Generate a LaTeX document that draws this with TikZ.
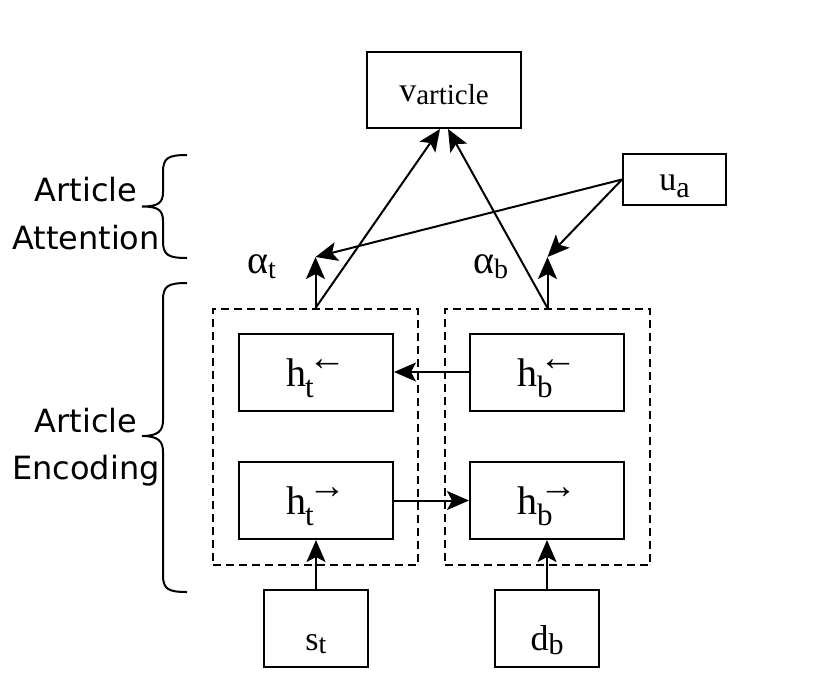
\documentclass[tikz,border=0pt]{standalone}
\usepackage{fontspec}
\setmainfont{Liberation Serif}
\newfontfamily\labelfont{DejaVu Sans}
\usetikzlibrary{arrows.meta}
\newcommand{\msub}[5]{{\fontsize{#1}{#1}\selectfont #2}\raisebox{-#5}{\fontsize{#3}{#3}\selectfont #4}}
\newcommand{\hvec}[3]{{\fontsize{40}{40}\selectfont h}\makebox[0pt][l]{\kern#3\raisebox{-11pt}{\fontsize{31}{31}\selectfont #1}}\kern2pt\raisebox{16pt}{\fontsize{38}{38}\selectfont #2}}
\tikzset{
  box/.style={draw, line width=2pt, inner sep=0pt, align=center},
  hbox/.style={box, minimum width=154pt, minimum height=77pt, text height=34pt, text depth=6pt},
  inbox/.style={box, minimum width=104pt, minimum height=77pt, text height=45pt, text depth=2pt},
  grp/.style={draw, dash pattern=on 8pt off 5pt, line width=2pt, minimum width=205pt, minimum height=256pt, inner sep=0pt},
  arr/.style={line width=2pt, -{Stealth[length=22pt,width=19pt,inset=5pt]}},
  brc/.style={line width=2pt},
  sidelabel/.style={align=center, inner sep=0pt},
  alabel/.style={anchor=base west, inner sep=0pt},
}
\begin{document}
\begin{tikzpicture}[x=1pt, y=-1pt]
\useasboundingbox (0,0) rectangle (830,697);
% boxes
\node[box, minimum width=154pt, minimum height=76pt, text height=26pt, text depth=4pt] (va) at (444,90) {\msub{34}{v}{29}{article}{3pt}};
\node[box, minimum width=103pt, minimum height=51pt, text height=23pt, text depth=2pt] (ua) at (674.5,179.5) {\msub{34}{u}{30}{a}{7pt}};
\node[grp] (encT) at (315.5,437) {};
\node[grp] (encB) at (547.5,437) {};
\node[hbox] (htb) at (316,372) {\hvec{t}{←}{-1pt}};
\node[hbox] (hbb) at (547,372) {\hvec{b}{←}{0pt}};
\node[hbox] (htf) at (316,500.5) {\hvec{t}{→}{-1pt}};
\node[hbox] (hbf) at (547,500.5) {\hvec{b}{→}{0pt}};
\node[inbox] (st) at (316,628.5) {\msub{34}{s}{28}{t}{3pt}};
\node[inbox] (db) at (547,628.5) {\msub{36}{d}{30}{b}{4pt}};
% alpha labels
\node[alabel] (alt) at (247,273) {\msub{40}{α}{28}{t}{5pt}};
\node[alabel] (alb) at (473,273) {\msub{40}{α}{28}{b}{5pt}};
\coordinate (at) at (315.5,257);
\coordinate (ab) at (547.5,257);
% connectors
\draw[arr] (st) -- (htf);
\draw[arr] (db) -- (hbf);
\draw[arr] (htf) -- (hbf);
\draw[arr] (hbb) -- (htb);
\draw[arr] (encT.north) -- (at);
\draw[arr] (encB.north) -- (ab);
\draw[arr] (encT.north) -- ([xshift=-4pt]va.south);
\draw[arr] (encB.north) -- ([xshift=4pt]va.south);
\draw[arr] (ua.west) -- (at);
\draw[arr] (ua.west) -- (ab);
% braces
\draw[brc] (187,155) .. controls (168,155) and (163,158) .. (163,172) -- (163,192) .. controls (163,203) and (158,206.5) .. (142,206.5) .. controls (158,206.5) and (163,210) .. (163,221) -- (163,241) .. controls (163,255) and (168,258) .. (187,258);
\draw[brc] (187,283) .. controls (168,283) and (163,286) .. (163,300) -- (163,420) .. controls (163,431) and (158,436) .. (142,436) .. controls (158,436) and (163,441) .. (163,452) -- (163,575) .. controls (163,589) and (168,592) .. (187,592);
% side labels
\node[sidelabel, font=\labelfont\fontsize{32}{48}\selectfont] (attlbl) at (86,214) {Article\\Attention};
\node[sidelabel, font=\labelfont\fontsize{32}{47}\selectfont] (enclbl) at (86,447.5) {Article\\Encoding};
\end{tikzpicture}
\end{document}
